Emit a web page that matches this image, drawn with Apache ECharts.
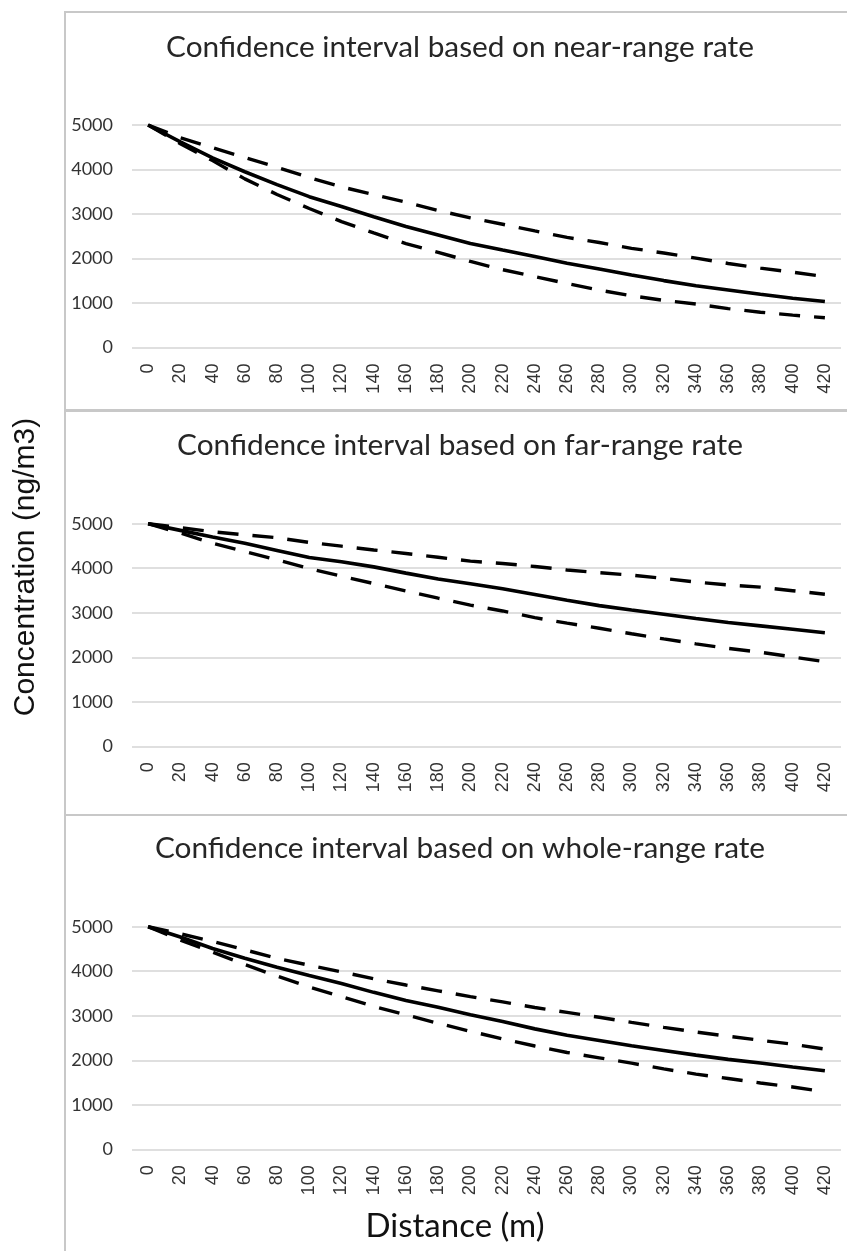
<!DOCTYPE html>
<html>
<head>
<meta charset="utf-8">
<script src="https://cdn.jsdelivr.net/npm/echarts@6/dist/echarts.min.js"></script>
<style>
html,body{margin:0;padding:0;background:#fff;}
#chart{width:847px;height:1251px;}
</style>
</head>
<body>
<div id="chart"></div>
<script>
// Distance categories (m)
const distances = ['0','20','40','60','80','100','120','140','160','180','200','220','240','260','280','300','320','340','360','380','400','420'];

// Panel 1: near-range rate
const nearMid   = [5000,4620,4260,3950,3660,3390,3170,2940,2720,2530,2340,2190,2045,1895,1765,1630,1505,1390,1295,1200,1110,1035];
const nearUpper = [5000,4715,4490,4270,4050,3820,3610,3435,3265,3080,2915,2770,2620,2475,2360,2230,2125,2010,1890,1785,1695,1595];
const nearLower = [5000,4580,4200,3790,3440,3125,2830,2575,2335,2140,1935,1750,1595,1440,1290,1165,1060,980,875,795,730,670];

// Panel 2: far-range rate
const farMid   = [5000,4850,4700,4560,4400,4240,4145,4030,3890,3760,3650,3540,3410,3280,3160,3060,2965,2870,2780,2705,2630,2550];
const farUpper = [5000,4910,4820,4750,4685,4580,4495,4410,4330,4245,4160,4105,4040,3960,3900,3845,3770,3690,3625,3575,3495,3415];
const farLower = [5000,4790,4560,4374,4190,3990,3822,3656,3490,3327,3172,3040,2890,2766,2651,2528,2412,2302,2198,2114,2007,1900];

// Panel 3: whole-range rate
const wholeMid   = [5000,4770,4510,4290,4090,3905,3725,3525,3340,3190,3020,2870,2705,2560,2445,2325,2220,2115,2020,1940,1850,1765];
const wholeUpper = [5000,4840,4670,4480,4290,4135,3985,3830,3690,3560,3430,3310,3185,3075,2965,2850,2740,2635,2540,2450,2360,2250];
const wholeLower = [5000,4700,4430,4150,3890,3645,3430,3210,3020,2830,2650,2480,2320,2175,2055,1935,1805,1690,1590,1490,1400,1290];

const titles = [
  'Confidence interval based on near-range rate',
  'Confidence interval based on far-range rate',
  'Confidence interval based on whole-range rate'
];
const yTicks = {min: 0, max: 5000, interval: 1000};

const panels = [
  {mid: nearMid, up: nearUpper, lo: nearLower},
  {mid: farMid, up: farUpper, lo: farLower},
  {mid: wholeMid, up: wholeUpper, lo: wholeLower}
];

const gridTops = [125, 523.7, 926.7];
const gridH = 222.6;
const frameTops = [12, 411, 815];
const frameH = [398, 404, 500];
const titleY = [47, 445, 848];

const grid = [], xAxis = [], yAxis = [], series = [], graphics = [];
panels.forEach((p, i) => {
  grid.push({left: 132, right: 6, top: gridTops[i], height: gridH});
  xAxis.push({
    type: 'category', gridIndex: i, data: distances, boundaryGap: true,
    axisLine: {show: false}, axisTick: {show: false},
    axisLabel: {rotate: 90, interval: 0, margin: 16, fontFamily: 'Liberation Sans', fontSize: 18, color: '#333'}
  });
  yAxis.push({
    type: 'value', gridIndex: i, min: yTicks.min, max: yTicks.max, interval: yTicks.interval,
    axisLine: {show: false}, axisTick: {show: false},
    axisLabel: {margin: 19, fontFamily: 'Lato', fontSize: 18, color: '#333', formatter: v => String(v)},
    splitLine: {lineStyle: {color: '#d4d4d4', width: 1.5}}
  });
  const base = {type: 'line', xAxisIndex: i, yAxisIndex: i, symbol: 'none', silent: true, animation: false};
  series.push(Object.assign({}, base, {name: 'upper' + i, data: p.up, lineStyle: {color: '#000', width: 3.4, type: [21, 14]}}));
  series.push(Object.assign({}, base, {name: 'lower' + i, data: p.lo, lineStyle: {color: '#000', width: 3.4, type: [21, 14]}}));
  series.push(Object.assign({}, base, {name: 'mid' + i, data: p.mid, lineStyle: {color: '#000', width: 3.6}}));
  graphics.push({
    type: 'rect', silent: true, z: -1,
    shape: {x: 65, y: frameTops[i], width: 800, height: frameH[i]},
    style: {fill: 'none', stroke: '#c8c8c8', lineWidth: 2}
  });
  graphics.push({
    type: 'text', x: 460, y: titleY[i],
    style: {text: titles[i], fontFamily: 'Lato', fontSize: 29.8, fill: '#262626', textAlign: 'center', textVerticalAlign: 'middle'}
  });
});

graphics.push({
  type: 'text', x: 25.5, y: 567, rotation: Math.PI / 2,
  style: {text: 'Concentration (ng/m3)', fontFamily: 'Liberation Sans', fontSize: 30, fill: '#111', textAlign: 'center', textVerticalAlign: 'middle'}
});
graphics.push({
  type: 'text', x: 455, y: 1226,
  style: {text: 'Distance (m)', fontFamily: 'Lato', fontSize: 33, fill: '#111', textAlign: 'center', textVerticalAlign: 'middle'}
});

const chart = echarts.init(document.getElementById('chart'), null, {renderer: 'canvas'});
chart.setOption({
  animation: false,
  backgroundColor: '#fff',
  grid, xAxis, yAxis, series,
  graphic: graphics
});
</script>
</body>
</html>
